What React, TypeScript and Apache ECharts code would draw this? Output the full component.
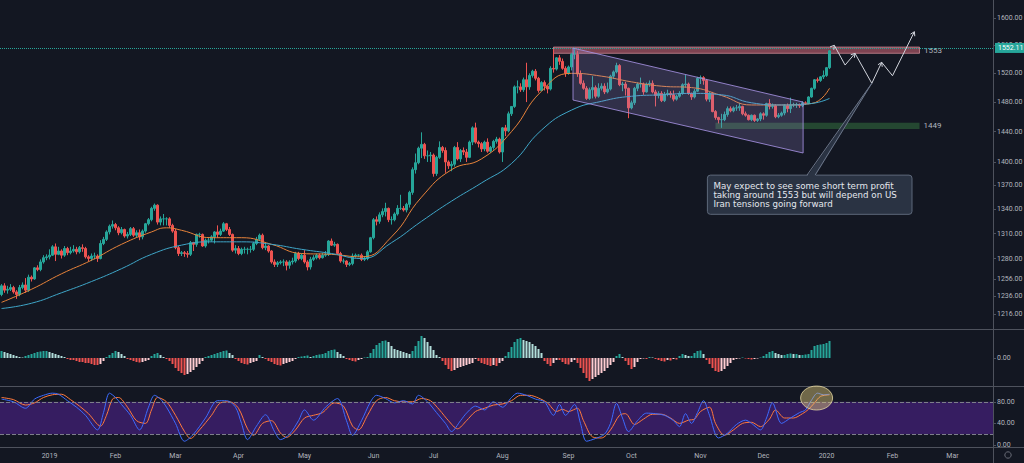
import React, { useEffect, useRef } from "react";
import * as echarts from "echarts";

// ---------- categories (daily trading bars) ----------
const START_DATE = [2018, 11, 7]; // 7 Dec 2018 (month is 0-based)
const CATEGORY_COUNT = 331; // bars incl. empty space to mid-Mar 2020
const CLOSED_DAYS = ["12-25", "01-01"];
const MONTHS = ["Jan", "Feb", "Mar", "Apr", "May", "Jun", "Jul", "Aug", "Sep", "Oct", "Nov", "Dec"];

// ---------- price candles [open, close, low, high] ----------
const ohlc: number[][] = [
  // Dec 2018
  [1238, 1248, 1236, 1250], [1248, 1243, 1240, 1251], [1243, 1244, 1239, 1248], [1244, 1246, 1242, 1250],
  [1246, 1241, 1239, 1248], [1241, 1238, 1233, 1243], [1238, 1246, 1236, 1249], [1246, 1249, 1244, 1252],
  [1249, 1243, 1240, 1257], [1243, 1258, 1241, 1261], [1258, 1256, 1253, 1260], [1256, 1269, 1255, 1270],
  [1269, 1267, 1265, 1272], [1267, 1276, 1265, 1279], [1276, 1281, 1274, 1284], [1281, 1282, 1278, 1285],
  // Jan 2019
  [1282, 1284, 1279, 1291], [1284, 1294, 1283, 1296], [1294, 1285, 1277, 1298], [1285, 1289, 1284, 1294],
  [1289, 1284, 1280, 1291], [1284, 1292, 1282, 1295], [1292, 1287, 1284, 1294], [1287, 1289, 1285, 1294],
  [1289, 1291, 1287, 1296], [1291, 1288, 1285, 1294], [1288, 1293, 1286, 1295], [1293, 1292, 1288, 1297],
  [1292, 1282, 1280, 1294], [1282, 1280, 1277, 1284], [1280, 1283, 1277, 1286], [1283, 1283, 1279, 1287],
  [1283, 1280, 1276, 1285], [1280, 1298, 1279, 1302], [1298, 1303, 1296, 1306], [1303, 1312, 1301, 1314],
  [1312, 1319, 1309, 1321], [1319, 1321, 1316, 1326],
  // Feb 2019
  [1321, 1317, 1314, 1323], [1317, 1311, 1308, 1319], [1311, 1315, 1309, 1318], [1315, 1307, 1305, 1316],
  [1307, 1309, 1304, 1312], [1309, 1316, 1307, 1318], [1316, 1308, 1306, 1318], [1308, 1311, 1305, 1314],
  [1311, 1306, 1302, 1315], [1306, 1313, 1303, 1315], [1313, 1322, 1311, 1323], [1322, 1327, 1320, 1329],
  [1327, 1341, 1325, 1343], [1341, 1345, 1338, 1347], [1345, 1324, 1321, 1346], [1324, 1328, 1320, 1331],
  [1328, 1328, 1320, 1334], [1328, 1328, 1320, 1330], [1328, 1320, 1317, 1330], [1320, 1313, 1311, 1322],
  // Mar 2019
  [1313, 1293, 1291, 1316], [1293, 1286, 1283, 1295], [1286, 1287, 1283, 1289], [1287, 1286, 1282, 1289],
  [1286, 1285, 1281, 1289], [1285, 1299, 1283, 1301], [1299, 1297, 1289, 1300], [1297, 1309, 1294, 1310],
  [1309, 1309, 1305, 1311], [1309, 1295, 1294, 1310], [1295, 1302, 1293, 1304], [1302, 1302, 1298, 1305],
  [1302, 1306, 1300, 1308], [1306, 1312, 1298, 1313], [1312, 1309, 1305, 1320], [1309, 1313, 1307, 1316],
  [1313, 1322, 1312, 1324], [1322, 1315, 1313, 1323], [1315, 1309, 1307, 1318], [1309, 1290, 1288, 1310],
  [1290, 1292, 1286, 1296],
  // Apr 2019
  [1292, 1286, 1284, 1295], [1286, 1291, 1284, 1293], [1291, 1291, 1286, 1294], [1291, 1291, 1285, 1293],
  [1291, 1291, 1287, 1295], [1291, 1298, 1289, 1300], [1298, 1303, 1296, 1306], [1303, 1308, 1301, 1310],
  [1308, 1293, 1291, 1310], [1293, 1295, 1290, 1298], [1295, 1289, 1287, 1296], [1289, 1276, 1274, 1290],
  [1276, 1273, 1270, 1279], [1273, 1275, 1270, 1277], [1275, 1276, 1273, 1278], [1276, 1276, 1271, 1279],
  [1276, 1272, 1266, 1278], [1272, 1276, 1268, 1278], [1276, 1277, 1273, 1281], [1277, 1286, 1275, 1288],
  [1286, 1280, 1278, 1288], [1280, 1284, 1278, 1286],
  // May 2019
  [1284, 1276, 1274, 1290], [1276, 1270, 1266, 1278], [1270, 1279, 1267, 1282], [1279, 1281, 1277, 1284],
  [1281, 1284, 1279, 1286], [1284, 1281, 1279, 1286], [1281, 1284, 1280, 1287], [1284, 1285, 1282, 1289],
  [1285, 1301, 1283, 1302], [1301, 1296, 1295, 1304], [1296, 1297, 1294, 1300], [1297, 1286, 1285, 1298],
  [1286, 1277, 1275, 1288], [1277, 1277, 1274, 1280], [1277, 1273, 1270, 1278], [1273, 1274, 1271, 1276],
  [1274, 1283, 1272, 1286], [1283, 1284, 1281, 1286], [1284, 1284, 1282, 1285], [1284, 1279, 1277, 1286],
  [1279, 1280, 1277, 1283], [1280, 1288, 1278, 1290], [1288, 1305, 1287, 1306],
  // Jun 2019
  [1305, 1327, 1303, 1329], [1327, 1325, 1320, 1331], [1325, 1333, 1322, 1336], [1333, 1337, 1330, 1341],
  [1337, 1341, 1331, 1348], [1341, 1327, 1324, 1342], [1327, 1327, 1321, 1331], [1327, 1334, 1325, 1336],
  [1334, 1341, 1332, 1345], [1341, 1341, 1339, 1358], [1341, 1339, 1337, 1344], [1339, 1346, 1336, 1348],
  [1346, 1361, 1342, 1363], [1361, 1390, 1358, 1393], [1390, 1399, 1385, 1411], [1399, 1418, 1397, 1420],
  [1418, 1423, 1405, 1439], [1423, 1408, 1404, 1425], [1408, 1408, 1400, 1415], [1408, 1409, 1400, 1413],
  // Jul 2019
  [1409, 1385, 1381, 1411], [1385, 1406, 1382, 1408], [1406, 1419, 1404, 1427], [1419, 1415, 1412, 1421],
  [1415, 1400, 1386, 1419], [1400, 1395, 1391, 1402], [1395, 1397, 1388, 1401], [1397, 1419, 1394, 1421],
  [1419, 1404, 1402, 1426], [1404, 1415, 1400, 1417], [1415, 1413, 1409, 1419], [1413, 1406, 1400, 1417],
  [1406, 1426, 1405, 1428], [1426, 1445, 1422, 1447], [1445, 1426, 1424, 1452], [1426, 1424, 1419, 1428],
  [1424, 1417, 1413, 1426], [1417, 1426, 1414, 1428], [1426, 1414, 1412, 1431], [1414, 1419, 1412, 1421],
  [1419, 1427, 1416, 1429], [1427, 1430, 1424, 1433], [1430, 1413, 1411, 1432],
  // Aug 2019
  [1413, 1445, 1400, 1446], [1445, 1441, 1434, 1449], [1441, 1464, 1439, 1467], [1464, 1474, 1461, 1474],
  [1474, 1501, 1472, 1503], [1501, 1501, 1492, 1510], [1501, 1497, 1494, 1506], [1497, 1511, 1494, 1514],
  [1511, 1501, 1480, 1535], [1501, 1517, 1497, 1520], [1517, 1523, 1514, 1525], [1523, 1513, 1510, 1526],
  [1513, 1496, 1493, 1515], [1496, 1507, 1495, 1509], [1507, 1502, 1496, 1510], [1502, 1498, 1492, 1503],
  [1498, 1527, 1496, 1530], [1527, 1526, 1521, 1555], [1526, 1542, 1524, 1543], [1542, 1537, 1532, 1546],
  [1537, 1527, 1525, 1541], [1527, 1520, 1515, 1530],
  // Sep 2019
  [1520, 1529, 1518, 1531], [1529, 1547, 1524, 1549], [1547, 1547, 1540, 1557], [1547, 1519, 1515, 1552],
  [1519, 1506, 1504, 1524], [1506, 1499, 1497, 1510], [1499, 1485, 1483, 1502], [1485, 1497, 1483, 1500],
  [1497, 1500, 1485, 1516], [1500, 1488, 1485, 1503], [1488, 1499, 1486, 1506], [1499, 1502, 1496, 1506],
  [1502, 1494, 1491, 1506], [1494, 1498, 1492, 1507], [1498, 1516, 1496, 1518], [1516, 1522, 1512, 1524],
  [1522, 1531, 1520, 1535], [1531, 1504, 1502, 1533], [1504, 1505, 1495, 1508], [1505, 1499, 1489, 1508],
  [1499, 1472, 1458, 1500],
  // Oct 2019
  [1472, 1479, 1470, 1482], [1479, 1499, 1476, 1501], [1499, 1505, 1495, 1507], [1505, 1505, 1500, 1514],
  [1505, 1494, 1490, 1507], [1494, 1505, 1493, 1507], [1505, 1506, 1501, 1510], [1506, 1494, 1492, 1510],
  [1494, 1489, 1474, 1497], [1489, 1492, 1485, 1495], [1492, 1482, 1480, 1495], [1482, 1491, 1480, 1494],
  [1491, 1492, 1488, 1497], [1492, 1490, 1486, 1495], [1490, 1484, 1481, 1496], [1484, 1488, 1482, 1490],
  [1488, 1492, 1486, 1495], [1492, 1504, 1490, 1506], [1504, 1505, 1500, 1518], [1505, 1492, 1490, 1507],
  [1492, 1487, 1483, 1493], [1487, 1495, 1485, 1498], [1495, 1513, 1494, 1515],
  // Nov 2019
  [1513, 1514, 1505, 1517], [1514, 1510, 1504, 1516], [1510, 1484, 1481, 1512], [1484, 1492, 1480, 1494],
  [1492, 1467, 1466, 1494], [1467, 1459, 1456, 1469], [1459, 1456, 1451, 1460], [1456, 1456, 1445, 1464],
  [1456, 1463, 1454, 1467], [1463, 1471, 1460, 1474], [1471, 1468, 1466, 1474], [1468, 1472, 1466, 1474],
  [1472, 1472, 1468, 1476], [1472, 1474, 1468, 1479], [1474, 1464, 1462, 1475], [1464, 1462, 1460, 1467],
  [1462, 1456, 1455, 1463], [1456, 1462, 1454, 1463], [1462, 1455, 1453, 1463], [1455, 1457, 1453, 1458],
  [1457, 1464, 1454, 1466],
  // Dec 2019
  [1464, 1462, 1456, 1466], [1462, 1478, 1460, 1479], [1478, 1474, 1470, 1484], [1474, 1475, 1471, 1478],
  [1475, 1460, 1458, 1477], [1460, 1462, 1458, 1465], [1462, 1465, 1460, 1467], [1465, 1475, 1462, 1477],
  [1475, 1471, 1466, 1478], [1471, 1476, 1465, 1486], [1476, 1476, 1473, 1479], [1476, 1476, 1472, 1479],
  [1476, 1475, 1472, 1478], [1475, 1479, 1473, 1481], [1479, 1478, 1476, 1481], [1478, 1487, 1477, 1488],
  [1487, 1499, 1486, 1500], [1499, 1511, 1497, 1512], [1511, 1510, 1507, 1514], [1510, 1515, 1508, 1516],
  [1515, 1517, 1512, 1524],
  // Jan 2020
  [1517, 1528, 1515, 1529], [1528, 1552.11, 1526, 1553],
];
const LAST_PRICE = 1552.11;

// ---------- moving averages [bar index, price] ----------
const emaFast: number[][] = [
  [0, 1229], [10, 1244], [20, 1262], [30, 1278], [40, 1297], [50, 1312], [55, 1317], [60, 1314],
  [70, 1305], [80, 1305], [90, 1297], [100, 1286], [110, 1285], [120, 1282], [130, 1306], [140, 1355],
  [150, 1390], [160, 1404], [170, 1440], [180, 1495], [190, 1520], [200, 1516], [210, 1508], [220, 1502],
  [230, 1500], [240, 1489], [250, 1476], [260, 1476], [270, 1478], [276, 1499],
];
const maSlow: number[][] = [
  [0, 1222], [10, 1228], [20, 1240], [30, 1253], [40, 1268], [50, 1285], [60, 1296], [70, 1300],
  [80, 1300], [90, 1297], [100, 1291], [110, 1286], [120, 1280], [130, 1299], [140, 1325], [150, 1350],
  [160, 1373], [170, 1398], [180, 1442], [190, 1469], [200, 1481], [210, 1488], [220, 1490], [230, 1492],
  [240, 1490], [250, 1479], [260, 1476], [270, 1478], [276, 1485],
];

// ---------- price axis ----------
const PRICE_MIN = 1199;
const PRICE_MAX = 1627;
const priceTicks = [1216, 1236, 1256, 1280, 1310, 1340, 1370, 1400, 1440, 1480, 1520, 1560, 1600];

// ---------- drawings ----------
const resistance = { low: 1548.5, high: 1557.5, from: 184, to: 306, label: "1553" };
const support = { low: 1443.5, high: 1452, from: 238, to: 306, label: "1449" };
const channel: number[][] = [[190.5, 1556], [267.2, 1480], [267.2, 1411.7], [190.5, 1482.8]];
const projection: number[][] = [
  [277.6, 1560], [281.2, 1531.7], [284.5, 1548.4], [290.1, 1506], [293.4, 1535.6], [297, 1516.6], [304.3, 1579.8],
];
const calloutBox = { left: 235.3, top: 1383, right: 303.5, bottom: 1333.6 };
const calloutBase: number[][] = [[268.5, 1383], [271.2, 1383]];
const calloutLines = [
  "May expect to see some short term profit",
  "taking around 1553 but will depend on US",
  "Iran tensions going forward",
];

// ---------- MACD histogram (one value per bar) ----------
const macdHist: number[] = [
  7, 6, 5, 4, 3, 2, 1, 0.5, 2, 3, 4, 5, 6, 6.5, 7, 7, 6, 5, 4, 3, 2, 1,
  -1, -2, -2, -3, -4, -4, -5, -5, -6, -7, -7, -6, -3,
  1, 3, 5, 7, 6, 4, 2,
  -1, -2, -3, -4, -4.5, -4, -3, -2,
  2, 4, 5, 3, 1,
  -1, -3, -6, -10, -13, -15, -17, -16, -14, -12, -9, -6, -3,
  1, 2, 3, 4, 5, 6, 7, 7.5, 5, 3,
  -1, -3, -5, -6, -6.5, -5, -4, -3,
  3, 1,
  -1, -3, -4, -6, -7, -7.5, -6, -5, -4, -3, -1,
  1, 1.5, 2, 2.5, 1, 2, 3, 3.5, 4, 5, 7, 8, 8.5, 6, 4, 2,
  -1, -2, -3, -3.5, -2, -1,
  0.5, 1,
  5, 9, 13, 15, 17, 17.5, 16, 12, 9, 8, 7, 6, 5, 4,
  7, 12, 17, 22, 20, 16, 12, 8, 3, 1,
  -3, -7, -11, -13, -12, -10, -9, -8, -7, -6, -5,
  -1, -3, -5, -6, -7, -8, -7, -8, -5, -3,
  2, 6, 11, 16, 19, 20, 18, 17, 16, 14, 12, 9, 5,
  -3, -6, -8, -5, -2,
  -2, -4, -6, -6.5, -4, -2,
  -5, -10, -15, -20, -23, -21, -19, -17, -15, -13, -10, -7, -4,
  2, 4, 1,
  -3, -7, -11, -9, -4,
  -1, -0.5, -1,
  1, 0.5,
  -1, -2, -3, -3.5, -2, -2.5, -1, -1.5,
  2, 4, 3, 2,
  2, 5, 7, 7.5, 4,
  -2, -6, -10, -13, -14, -13, -11, -8, -5, -2,
  -1, -0.5, 0.5, -0.5, -1, -1.5, -1, -0.5, 0.5,
  2, 4, 6, 7, 5,
  4, 3, 3, 4, 4.5, 4, 4, 3, 3, 3.5, 4,
  8, 12, 13, 13.5, 14, 15, 17,
];
const MACD_RANGE = 28;

// ---------- Stochastic [bar index, value] ----------
const stochK: number[][] = [
  [0, 85], [4, 80], [8, 68], [11, 85], [14, 92], [17, 96], [19, 94], [22, 82], [25, 70], [28, 55], [32, 28],
  [34, 60], [36, 96], [38, 88], [40, 75], [43, 55], [46, 28], [49, 70], [51, 92], [53, 85], [55, 70], [58, 40],
  [61, 7], [64, 20], [68, 50], [72, 82], [75, 82], [78, 70], [80, 40], [82, 10], [85, 35], [88, 56], [91, 25],
  [93, 10], [96, 20], [99, 45], [101, 65], [104, 46], [108, 70], [112, 86], [115, 45], [117, 18], [120, 45],
  [123, 80], [125, 92], [128, 86], [131, 78], [134, 82], [137, 76], [139, 92], [142, 80], [145, 60], [148, 40],
  [150, 25], [153, 45], [155, 59], [158, 72], [161, 65], [164, 80], [167, 70], [170, 88], [172, 96], [175, 92],
  [178, 85], [181, 80], [184, 55], [186, 75], [188, 55], [191, 75], [193, 40], [195, 7], [198, 12], [201, 20],
  [203, 40], [205, 77], [207, 50], [209, 25], [212, 45], [215, 59], [218, 58], [221, 55], [224, 45], [226, 34],
  [228, 58], [230, 40], [232, 60], [234, 82], [236, 55], [239, 13], [242, 22], [245, 38], [248, 46], [250, 40],
  [253, 28], [255, 50], [257, 78], [260, 40], [263, 50], [266, 60], [268, 65], [270, 83], [272, 96], [274, 93],
  [276, 94],
];
const stochD: number[][] = [
  [0, 88], [4, 84], [8, 74], [11, 78], [14, 88], [17, 93], [20, 94], [23, 84], [26, 72], [29, 58], [33, 35],
  [35, 55], [37, 85], [39, 88], [42, 70], [45, 45], [48, 40], [50, 65], [52, 88], [55, 80], [58, 55], [61, 25],
  [63, 12], [66, 28], [70, 55], [73, 78], [76, 80], [79, 68], [82, 30], [84, 18], [87, 40], [90, 45], [93, 22],
  [95, 14], [98, 28], [101, 50], [104, 55], [107, 60], [111, 78], [114, 72], [117, 35], [119, 28], [122, 55],
  [125, 82], [128, 88], [131, 82], [134, 80], [137, 80], [140, 86], [143, 82], [146, 65], [149, 45], [152, 30],
  [155, 45], [158, 62], [161, 68], [164, 74], [167, 76], [170, 82], [173, 92], [176, 92], [179, 87], [182, 78],
  [185, 62], [187, 66], [189, 62], [192, 68], [194, 45], [197, 15], [200, 13], [203, 28], [206, 55], [208, 58],
  [211, 38], [214, 48], [217, 57], [220, 57], [223, 50], [226, 40], [229, 46], [231, 48], [233, 62], [236, 70],
  [238, 40], [241, 18], [244, 28], [247, 40], [250, 42], [253, 34], [256, 48], [258, 65], [261, 50], [264, 50],
  [267, 58], [269, 66], [271, 78], [273, 90], [276, 93],
];
const stochTicks = [0, 40, 80];
const stochBand = [20, 80];
const STOCH_MIN = -3.7;
const STOCH_MAX = 107.4;
const highlight = { idx: 271.7, value: 87 };

// ---------- colours ----------
const BG = "#131722";
const UP = "#26a69a";
const DOWN = "#ef5350";
const TEXT = "#b2b5be";
const LINE = "#4e525d";
const FONT = "Roboto, 'DejaVu Sans', sans-serif";
const NOTE_FONT = "'DejaVu Sans', Verdana, sans-serif";

function buildDates(): string[] {
  const out: string[] = [];
  const d = new Date(Date.UTC(START_DATE[0], START_DATE[1], START_DATE[2]));
  while (out.length < CATEGORY_COUNT) {
    const wd = d.getUTCDay();
    const iso = d.toISOString().slice(0, 10);
    if (wd !== 0 && wd !== 6 && !CLOSED_DAYS.includes(iso.slice(5))) out.push(iso);
    d.setUTCDate(d.getUTCDate() + 1);
  }
  return out;
}

function makePt(api: any, toY: (v: number) => number) {
  return (i: number, v: number) => {
    const i0 = Math.floor(i);
    const a = api.coord([i0, toY(v)]);
    const b = api.coord([i0 + 1, toY(v)]);
    return [a[0] + (b[0] - a[0]) * (i - i0), a[1]];
  };
}

function renderDrawings(_params: any, api: any) {
  const pt = makePt(api, Math.log);
  const chan = channel.map(([i, p]) => pt(i, p));
  const proj = projection.map(([i, p]) => pt(i, p));
  const arrowheads = [0, 2, 4, 6].map((k) => {
    const tip = proj[k];
    const from = k === 0 ? [tip[0] - 4, tip[1] + 5] : proj[k - 1];
    const ang = Math.atan2(tip[1] - from[1], tip[0] - from[0]);
    const len = 4.5;
    const spread = 0.55;
    return {
      type: "polyline",
      shape: {
        points: [
          [tip[0] - len * Math.cos(ang - spread), tip[1] - len * Math.sin(ang - spread)],
          tip,
          [tip[0] - len * Math.cos(ang + spread), tip[1] - len * Math.sin(ang + spread)],
        ],
      },
      style: { stroke: "#d1d4dc", lineWidth: 1, fill: "none" },
    };
  });
  const tl = pt(calloutBox.left, calloutBox.top);
  const br = pt(calloutBox.right, calloutBox.bottom);
  const b1 = pt(calloutBase[0][0], calloutBase[0][1]);
  const b2 = pt(calloutBase[1][0], calloutBase[1][1]);
  const tip = proj[3];
  return {
    type: "group",
    children: [
      {
        type: "polygon",
        shape: { points: chan },
        style: { fill: "rgba(160,140,215,0.22)", stroke: "rgba(165,145,225,0.85)", lineWidth: 1 },
      },
      {
        type: "polyline",
        shape: { points: proj },
        style: { stroke: "#d1d4dc", lineWidth: 1, fill: "none" },
      },
      ...arrowheads,
      {
        type: "rect",
        shape: { x: tl[0], y: tl[1], width: br[0] - tl[0], height: br[1] - tl[1], r: 3 },
        style: { fill: "#2a3343", stroke: "#5d687a", lineWidth: 1 },
      },
      {
        type: "polygon",
        shape: { points: [[b1[0], b1[1] + 1.5], tip, [b2[0], b2[1] + 1.5]] },
        style: { fill: "#2a3343" },
      },
      {
        type: "polyline",
        shape: { points: [[b1[0], b1[1]], tip, [b2[0], b2[1]]] },
        style: { stroke: "#6b7588", lineWidth: 1, fill: "none" },
      },
      {
        type: "text",
        style: {
          text: calloutLines.join("\n"),
          x: tl[0] + 6,
          y: (tl[1] + br[1]) / 2 + 0.3,
          fill: "#e4e7ee",
          fontSize: 8.7,
          fontFamily: NOTE_FONT,
          lineHeight: 8.8,
          align: "left",
          verticalAlign: "middle",
        },
      },
    ],
  };
}

function renderHighlight(_params: any, api: any) {
  const pt = makePt(api, (v) => v);
  const c = pt(highlight.idx, highlight.value);
  return {
    type: "ellipse",
    shape: { cx: c[0], cy: c[1], rx: 16, ry: 12 },
    style: { fill: "rgba(226,204,122,0.45)", stroke: "rgba(240,226,170,0.75)", lineWidth: 1 },
  };
}

function buildOption() {
  const dates = buildDates();
  const L = Math.log;
  const candleData = ohlc.map((r) => r.map(L));
  const priceTickValues = priceTicks.map(L);

  const xAxis = (gridIndex: number, labels: boolean) => ({
    type: "category",
    gridIndex,
    data: dates,
    boundaryGap: true,
    axisLine: { show: false },
    axisTick: { show: false },
    splitLine: { show: false },
    axisPointer: { show: false },
    axisLabel: labels
      ? {
          show: true,
          color: TEXT,
          fontSize: 7,
          fontFamily: FONT,
          margin: 5,
          hideOverlap: false,
          interval: (index: number, value: string) =>
            index > 0 && value.slice(5, 7) !== dates[index - 1].slice(5, 7),
          formatter: (value: string) =>
            value.slice(5, 7) === "01" ? value.slice(0, 4) : MONTHS[Number(value.slice(5, 7)) - 1],
        }
      : { show: false },
  });

  const yAxisBase = {
    type: "value",
    position: "right",
    axisLine: { show: true, lineStyle: { color: LINE, width: 1 } },
    splitLine: { show: false },
  };

  const gridBase = { left: 0, right: 31, containLabel: false, outerBoundsMode: "none" };

  return {
    animation: false,
    backgroundColor: BG,
    textStyle: { fontFamily: FONT },
    grid: [
      { ...gridBase, top: 0, height: 329 },
      { ...gridBase, top: 330, height: 56 },
      { ...gridBase, top: 387, height: 60 },
    ],
    xAxis: [xAxis(0, false), xAxis(1, false), xAxis(2, true)],
    yAxis: [
      {
        ...yAxisBase,
        gridIndex: 0,
        min: L(PRICE_MIN),
        max: L(PRICE_MAX),
        axisTick: { show: true, length: 3, customValues: priceTickValues, lineStyle: { color: LINE } },
        axisLabel: {
          customValues: priceTickValues,
          formatter: (v: number) => Math.exp(v).toFixed(2),
          color: TEXT,
          fontSize: 7,
          fontFamily: FONT,
          margin: 4,
        },
      },
      {
        ...yAxisBase,
        gridIndex: 1,
        min: -MACD_RANGE,
        max: MACD_RANGE,
        axisTick: { show: true, length: 3, customValues: [0], lineStyle: { color: LINE } },
        axisLabel: {
          customValues: [0],
          formatter: (v: number) => v.toFixed(2),
          color: TEXT,
          fontSize: 7,
          fontFamily: FONT,
          margin: 4,
        },
      },
      {
        ...yAxisBase,
        gridIndex: 2,
        min: STOCH_MIN,
        max: STOCH_MAX,
        axisTick: { show: true, length: 3, customValues: stochTicks, lineStyle: { color: LINE } },
        axisLabel: {
          customValues: stochTicks,
          formatter: (v: number) => v.toFixed(2),
          color: TEXT,
          fontSize: 7,
          fontFamily: FONT,
          margin: 4,
        },
      },
    ],
    graphic: [
      { type: "line", silent: true, shape: { x1: 0, y1: 329.5, x2: 1024, y2: 329.5 }, style: { stroke: LINE, lineWidth: 1 } },
      { type: "line", silent: true, shape: { x1: 0, y1: 386.5, x2: 1024, y2: 386.5 }, style: { stroke: LINE, lineWidth: 1 } },
      { type: "line", silent: true, shape: { x1: 0, y1: 447.5, x2: 1024, y2: 447.5 }, style: { stroke: LINE, lineWidth: 1 } },
      { type: "line", silent: true, shape: { x1: 993.5, y1: 447, x2: 993.5, y2: 463 }, style: { stroke: LINE, lineWidth: 1 } },
      { type: "circle", silent: true, shape: { cx: 1008, cy: 455, r: 3.2 }, style: { fill: "none", stroke: "#6a6d78", lineWidth: 1 } },
    ],
    series: [
      {
        type: "candlestick",
        name: "XAUUSD",
        xAxisIndex: 0,
        yAxisIndex: 0,
        data: candleData,
        barWidth: 2,
        itemStyle: { color: UP, color0: DOWN, borderColor: UP, borderColor0: DOWN, borderWidth: 1 },
        markArea: {
          silent: true,
          data: [
            [
              {
                xAxis: resistance.from,
                yAxis: L(resistance.low),
                itemStyle: { color: "rgba(232,112,128,0.5)", borderColor: "rgba(246,165,175,0.6)", borderWidth: 1, opacity: 1 },
                label: { show: true, position: "right", formatter: resistance.label, color: TEXT, fontSize: 8, distance: 4 },
              },
              { xAxis: resistance.to, yAxis: L(resistance.high) },
            ],
            [
              {
                xAxis: support.from,
                yAxis: L(support.low),
                itemStyle: { color: "rgba(76,175,80,0.32)", opacity: 1 },
                label: { show: true, position: "right", formatter: support.label, color: TEXT, fontSize: 8, distance: 4 },
              },
              { xAxis: support.to, yAxis: L(support.high) },
            ],
          ],
        },
        markLine: {
          silent: true,
          symbol: ["none", "none"],
          data: [
            {
              yAxis: L(LAST_PRICE),
              lineStyle: { type: "dotted", color: UP, width: 1 },
              label: {
                show: true,
                position: "end",
                formatter: LAST_PRICE.toFixed(2),
                color: "#ffffff",
                backgroundColor: UP,
                fontSize: 7,
                fontFamily: FONT,
                padding: [2, 3, 1, 3],
                distance: 2,
              },
            },
          ],
        },
      },
      {
        type: "line",
        name: "EMA fast",
        xAxisIndex: 0,
        yAxisIndex: 0,
        data: emaFast.map(([i, p]) => [i, L(p)]),
        smooth: true,
        symbol: "none",
        lineStyle: { color: "#e8833a", width: 1 },
      },
      {
        type: "line",
        name: "MA slow",
        xAxisIndex: 0,
        yAxisIndex: 0,
        data: maSlow.map(([i, p]) => [i, L(p)]),
        smooth: true,
        symbol: "none",
        lineStyle: { color: "#3fa6c8", width: 1 },
      },
      {
        type: "custom",
        name: "drawings",
        xAxisIndex: 0,
        yAxisIndex: 0,
        data: [[0, L(1400)]],
        clip: false,
        silent: true,
        z: 5,
        renderItem: renderDrawings,
      },
      {
        type: "bar",
        name: "MACD",
        xAxisIndex: 1,
        yAxisIndex: 1,
        data: macdHist,
        barWidth: 2,
        itemStyle: {
          color: (p: any) => {
            const v = macdHist[p.dataIndex];
            const prev = p.dataIndex > 0 ? macdHist[p.dataIndex - 1] : v;
            if (v >= 0) return v >= prev ? UP : "#b2dfdb";
            return v <= prev ? DOWN : "#ffcdd2";
          },
        },
      },
      {
        type: "line",
        name: "%D",
        xAxisIndex: 2,
        yAxisIndex: 2,
        data: stochD,
        smooth: 0.3,
        symbol: "none",
        lineStyle: { color: "#ff7a3d", width: 1 },
        markArea: {
          silent: true,
          itemStyle: { color: "#361d61" },
          data: [[{ yAxis: stochBand[0] }, { yAxis: stochBand[1] }]],
        },
        markLine: {
          silent: true,
          symbol: ["none", "none"],
          label: { show: false },
          lineStyle: { color: "#7d7f8a", type: "dashed", width: 1 },
          data: [{ yAxis: stochBand[0] }, { yAxis: stochBand[1] }],
        },
      },
      {
        type: "line",
        name: "%K",
        xAxisIndex: 2,
        yAxisIndex: 2,
        data: stochK,
        smooth: 0.3,
        symbol: "none",
        lineStyle: { color: "#3d6cff", width: 1 },
      },
      {
        type: "custom",
        name: "highlight",
        xAxisIndex: 2,
        yAxisIndex: 2,
        data: [[0, 50]],
        clip: false,
        silent: true,
        z: 6,
        renderItem: renderHighlight,
      },
    ],
  };
}

export default function App() {
  const ref = useRef<HTMLDivElement>(null);
  useEffect(() => {
    const el = ref.current;
    if (!el) return;
    const chart = echarts.init(el, null, { renderer: "svg" });
    chart.setOption(buildOption() as any);
    return () => chart.dispose();
  }, []);
  return (
    <div
      ref={ref}
      style={{ position: "fixed", left: 0, top: 0, width: 1024, height: 463, background: BG }}
    />
  );
}
